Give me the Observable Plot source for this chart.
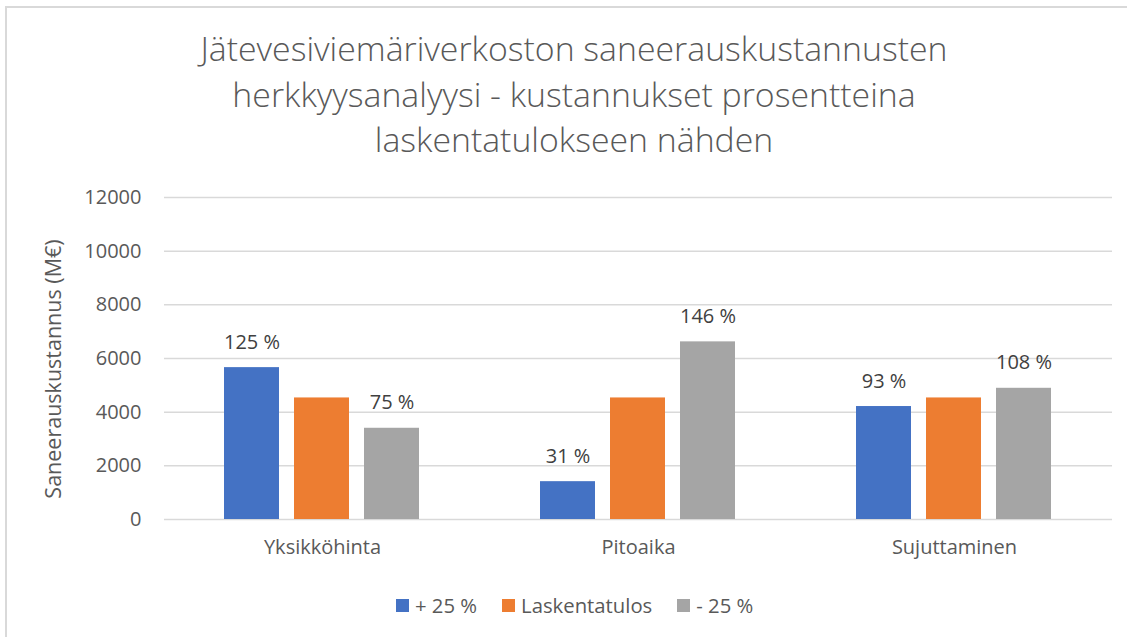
<!DOCTYPE html>
<html>
<head>
<meta charset="utf-8">
<script src="https://cdn.jsdelivr.net/npm/d3@7"></script>
<script src="https://cdn.jsdelivr.net/npm/@observablehq/plot@0.6"></script>
<style>
  html, body { margin: 0; padding: 0; background: #fff; }
  #wrap { position: relative; width: 1127px; height: 637px; overflow: hidden; font-family: "Open Sans", sans-serif; }
  #frame { position: absolute; left: 5px; top: 6px; width: 1200px; height: 700px; border-left: 2px solid #d9d9d9; border-top: 2px solid #d9d9d9; box-sizing: border-box; }
  #title { position: absolute; left: 0; width: 1148px; top: 26px; text-align: center; color: #595959; font-size: 33.8px; font-weight: 300; line-height: 45.5px; }
  #chart { position: absolute; left: 0; top: 0; }
  #ylabel { position: absolute; left: 52px; top: 369px; transform: translate(-50%, -50%) rotate(-90deg); white-space: nowrap; font-size: 21.5px; color: #595959; }
  #legend { position: absolute; top: 591px; left: 396px; display: flex; align-items: center; font-size: 20.3px; color: #595959; white-space: nowrap; }
  #legend .item { display: flex; align-items: center; margin-right: 25px; }
  #legend .sw { width: 13px; height: 13px; margin-right: 6px; }
</style>
</head>
<body>
<div id="wrap">
  <div id="frame"></div>
  <div id="chart"></div>
  <div id="title">Jätevesiviemäriverkoston saneerauskustannusten<br>herkkyysanalyysi - kustannukset prosentteina<br>laskentatulokseen nähden</div>
  <div id="ylabel">Saneerauskustannus (M€)</div>
  <div id="legend"></div>
</div>
<script>
const categories = ["Yksikköhinta", "Pitoaika", "Sujuttaminen"];
const series = ["+ 25 %", "Laskentatulos", "- 25 %"];
const plus25 = [5660, 1410, 4210];
const laskentatulos = [4530, 4530, 4530];
const minus25 = [3400, 6620, 4890];
const plusLabels = ["125 %", "31 %", "93 %"];
const minusLabels = ["75 %", "146 %", "108 %"];
const yTicks = [0, 2000, 4000, 6000, 8000, 10000, 12000];
const colors = ["#4472C4", "#ED7D31", "#A5A5A5"];

const seriesValues = [plus25, laskentatulos, minus25];
const seriesLabels = [plusLabels, null, minusLabels];
const data = [];
categories.forEach((c, i) => {
  series.forEach((s, j) => {
    data.push({cat: c, series: s, value: seriesValues[j][i], label: seriesLabels[j] ? seriesLabels[j][i] : null});
  });
});
const labelled = data.filter(d => d.label);

const chart = Plot.plot({
  width: 1127,
  height: 637,
  marginLeft: 163,
  marginRight: 15,
  marginTop: 197,
  marginBottom: 118,
  style: {fontFamily: "'Open Sans', sans-serif", background: "transparent"},
  fx: {domain: categories, padding: 0, label: null, axis: null},
  x: {domain: series, paddingInner: 0.213, paddingOuter: 0.85, axis: null},
  y: {domain: [0, 12000], label: null},
  color: {domain: series, range: colors},
  marks: [
    Plot.ruleY(yTicks, {stroke: "#d9d9d9", strokeWidth: 1.5}),
    Plot.barY(data, {fx: "cat", x: "series", y: "value", fill: "series"}),
    Plot.text(labelled, {fx: "cat", x: "series", y: "value", text: "label", dy: -19, lineAnchor: "bottom", fontSize: 20, fill: "#404040"}),
    Plot.axisY(yTicks, {tickSize: 0, tickPadding: 23, fontSize: 20, color: "#595959", label: null, tickFormat: d => String(d)}),
    Plot.axisFx({anchor: "bottom", tickSize: 0, tickPadding: 20, fontSize: 20, color: "#595959", label: null})
  ]
});
document.getElementById("chart").appendChild(chart);

const legend = document.getElementById("legend");
series.forEach((s, i) => {
  const item = document.createElement("div");
  item.className = "item";
  const sw = document.createElement("div");
  sw.className = "sw";
  sw.style.background = colors[i];
  const t = document.createElement("span");
  t.textContent = s;
  item.appendChild(sw);
  item.appendChild(t);
  legend.appendChild(item);
});
</script>
</body>
</html>
